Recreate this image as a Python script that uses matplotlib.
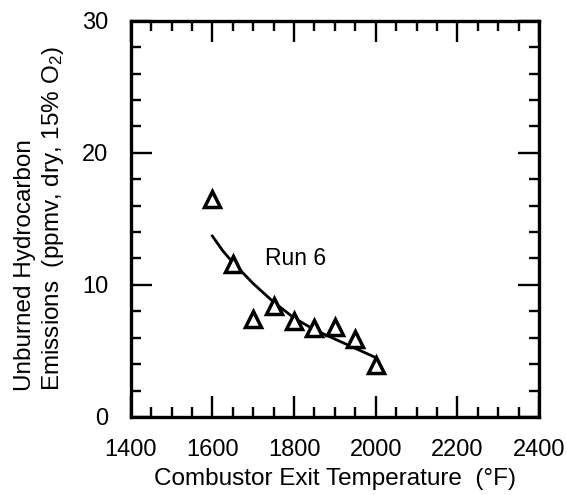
import matplotlib
matplotlib.use("Agg")
import matplotlib.pyplot as plt
from matplotlib.ticker import MultipleLocator

plt.rcParams['font.family'] = ['Liberation Sans', 'DejaVu Sans']
plt.rcParams['mathtext.fontset'] = 'custom'
plt.rcParams['mathtext.rm'] = 'Liberation Sans'
plt.rcParams['mathtext.it'] = 'Liberation Sans'

# Measured points (Run 6)
temp_f = [1600, 1650, 1700, 1750, 1800, 1850, 1900, 1950, 2000]
uhc_ppmv = [16.5, 11.6, 7.4, 8.4, 7.3, 6.7, 6.8, 5.9, 3.9]

# Fitted curve
curve_temp = [1600, 1625, 1650, 1675, 1700, 1750, 1800, 1850, 1900, 1950, 2000]
curve_uhc = [13.7, 12.6, 11.7, 10.9, 10.1, 8.7, 7.5, 6.6, 5.9, 5.2, 4.5]

x_ticks = [1400, 1600, 1800, 2000, 2200, 2400]
y_ticks = [0, 10, 20, 30]

fig = plt.figure(figsize=(5.67, 4.95), dpi=100)
ax = fig.add_axes([0.2305, 0.1576, 0.7201, 0.8006])

ax.plot(curve_temp, curve_uhc, color='black', lw=2.0, zorder=2)
ax.plot(temp_f, uhc_ppmv, linestyle='none', marker='^', ms=12,
        mfc='white', mec='black', mew=2.5, zorder=3)

ax.text(1728, 12.0, 'Run 6', fontsize=16.5, va='center', ha='left')

ax.set_xlim(1400, 2400)
ax.set_ylim(0, 30)
ax.set_xticks(x_ticks)
ax.set_yticks(y_ticks)
ax.xaxis.set_minor_locator(MultipleLocator(50))
ax.yaxis.set_minor_locator(MultipleLocator(2))

for s in ax.spines.values():
    s.set_linewidth(2.4)

ax.tick_params(which='both', direction='in', top=True, right=True,
               labelsize=17, width=1.7)
ax.tick_params(which='major', length=15, pad=16)
ax.tick_params(which='minor', length=7.5)

ax.set_xlabel('Combustor Exit Temperature  (°F)', fontsize=17.5, labelpad=5)
ax.set_ylabel('Unburned Hydrocarbon\nEmissions  (ppmv, dry, 15% O$_2$)',
              fontsize=17.5, labelpad=12, multialignment='left')

fig.savefig('out.png', dpi=100)
